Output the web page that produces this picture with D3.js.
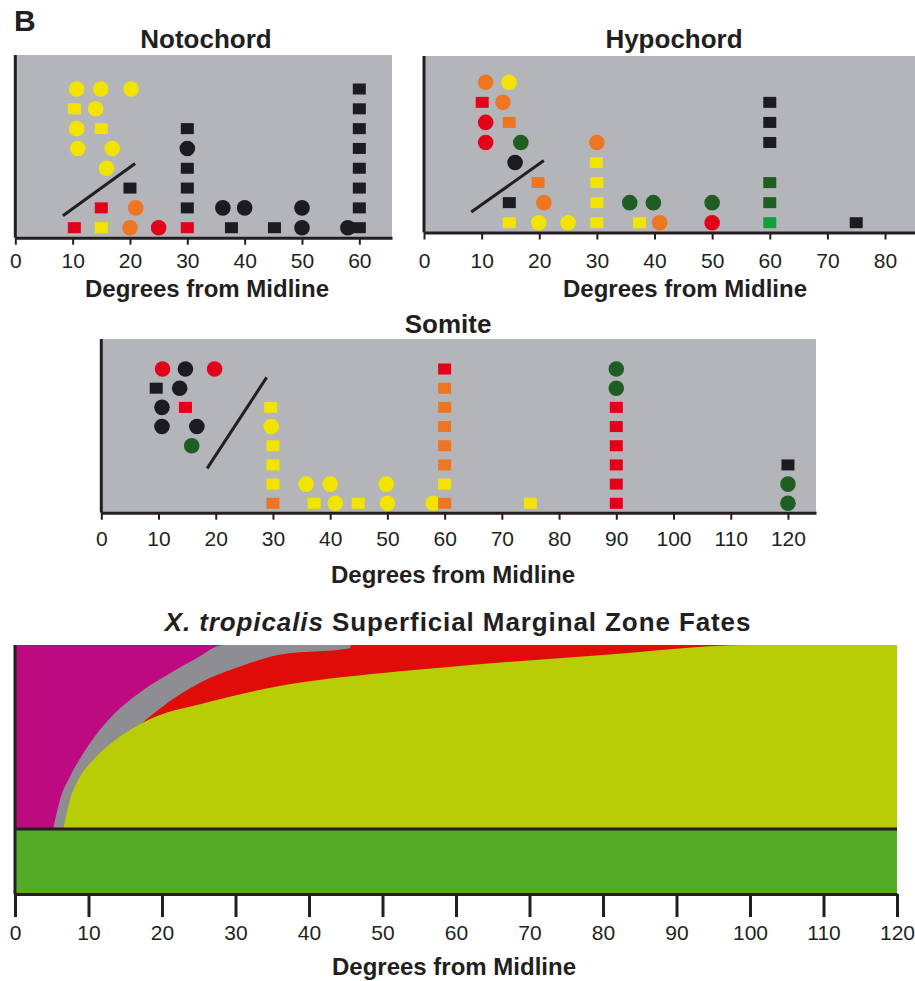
<!DOCTYPE html>
<html>
<head>
<meta charset="utf-8">
<script src="https://cdn.jsdelivr.net/npm/d3@7"></script>
<style>
  body { margin: 0; background: #fff; }
  svg { display: block; font-family: "Liberation Sans", Arial, Helvetica, sans-serif; }
</style>
</head>
<body>
<svg id="fig" width="915" height="981"></svg>
<script>
// fate categories: Y yellow, O orange, R red, K black, G dark green, LG light green
const fateColors = { Y: '#f3e400', O: '#ee7623', R: '#e2001a', K: '#1c1c20', G: '#1f5e22', LG: '#12a03a' };

// [degrees, row, shape (c = circle, s = square), fate]
const notochordPts = [
  [10.7, 7, 'c', 'Y'], [14.9, 7, 'c', 'Y'], [20.2, 7, 'c', 'Y'], [60, 7, 's', 'K'],
  [10.3, 6, 's', 'Y'], [14, 6, 'c', 'Y'], [60, 6, 's', 'K'],
  [10.7, 5, 'c', 'Y'], [15, 5, 's', 'Y'], [30, 5, 's', 'K'], [60, 5, 's', 'K'],
  [10.9, 4, 'c', 'Y'], [16.9, 4, 'c', 'Y'], [30, 4, 'c', 'K'], [60, 4, 's', 'K'],
  [15.9, 3, 'c', 'Y'], [30, 3, 's', 'K'], [60, 3, 's', 'K'],
  [20, 2, 's', 'K'], [30, 2, 's', 'K'], [60, 2, 's', 'K'],
  [15, 1, 's', 'R'], [21, 1, 'c', 'O'], [30, 1, 's', 'K'], [36.2, 1, 'c', 'K'], [40, 1, 'c', 'K'], [50, 1, 'c', 'K'], [60, 1, 's', 'K'],
  [10.3, 0, 's', 'R'], [15, 0, 's', 'Y'], [20, 0, 'c', 'O'], [25, 0, 'c', 'R'], [30, 0, 's', 'R'],
  [37.7, 0, 's', 'K'], [45.2, 0, 's', 'K'], [50, 0, 'c', 'K'], [58, 0, 'c', 'K'], [60, 0, 's', 'K']
];

const hypochordPts = [
  [10.7, 7, 'c', 'O'], [14.75, 7, 'c', 'Y'],
  [10.1, 6, 's', 'R'], [13.7, 6, 'c', 'O'], [60, 6, 's', 'K'],
  [10.7, 5, 'c', 'R'], [14.8, 5, 's', 'O'], [60, 5, 's', 'K'],
  [10.7, 4, 'c', 'R'], [16.8, 4, 'c', 'G'], [30, 4, 'c', 'O'], [60, 4, 's', 'K'],
  [15.8, 3, 'c', 'K'], [29.9, 3, 's', 'Y'],
  [19.8, 2, 's', 'O'], [30, 2, 's', 'Y'], [60, 2, 's', 'G'],
  [14.8, 1, 's', 'K'], [20.8, 1, 'c', 'O'], [30, 1, 's', 'Y'], [35.7, 1, 'c', 'G'], [39.8, 1, 'c', 'G'], [50, 1, 'c', 'G'], [60, 1, 's', 'G'],
  [14.8, 0, 's', 'Y'], [19.9, 0, 'c', 'Y'], [25, 0, 'c', 'Y'], [30, 0, 's', 'Y'], [37.4, 0, 's', 'Y'],
  [40.9, 0, 'c', 'O'], [50, 0, 'c', 'R'], [60, 0, 's', 'LG'], [75, 0, 's', 'K']
];

const somitePts = [
  [10.7, 7, 'c', 'R'], [14.7, 7, 'c', 'K'], [19.8, 7, 'c', 'R'], [60, 7, 's', 'R'], [90, 7, 'c', 'G'],
  [9.6, 6, 's', 'K'], [13.7, 6, 'c', 'K'], [60, 6, 's', 'O'], [90, 6, 'c', 'G'],
  [10.6, 5, 'c', 'K'], [14.7, 5, 's', 'R'], [29.6, 5, 's', 'Y'], [60, 5, 's', 'O'], [90, 5, 's', 'R'],
  [10.6, 4, 'c', 'K'], [16.7, 4, 'c', 'K'], [29.7, 4, 'c', 'Y'], [60, 4, 's', 'O'], [90, 4, 's', 'R'],
  [15.8, 3, 'c', 'G'], [30, 3, 's', 'Y'], [60, 3, 's', 'O'], [90, 3, 's', 'R'],
  [30, 2, 's', 'Y'], [60, 2, 's', 'O'], [90, 2, 's', 'R'], [120, 2, 's', 'K'],
  [30, 1, 's', 'Y'], [35.8, 1, 'c', 'Y'], [40, 1, 'c', 'Y'], [49.8, 1, 'c', 'Y'], [60, 1, 's', 'Y'], [90, 1, 's', 'R'], [120, 1, 'c', 'G'],
  [30, 0, 's', 'O'], [37.2, 0, 's', 'Y'], [40.9, 0, 'c', 'Y'], [44.9, 0, 's', 'Y'], [50, 0, 'c', 'Y'],
  [58, 0, 'c', 'Y'], [60, 0, 's', 'O'], [75, 0, 's', 'Y'], [90, 0, 's', 'R'], [120, 0, 'c', 'G']
];

// diagonal slash marks: [deg1, row1, deg2, row2]
const notochordSlash = [8.3, 0.6, 20.9, 3.24];
const hypochordSlash = [8.2, 0.53, 20.8, 3.1];
const somiteSlash = [18.5, 1.82, 28.9, 6.56];

const ticks60 = [0, 10, 20, 30, 40, 50, 60];
const ticks80 = [0, 10, 20, 30, 40, 50, 60, 70, 80];
const ticks120 = [0, 10, 20, 30, 40, 50, 60, 70, 80, 90, 100, 110, 120];

// bottom chart: upper edges of each fate region (fraction of the upper band)
const grayDeg = [5.2, 6.12, 7.48, 9.3, 11.56, 14.29, 17.46, 21.09, 24.7, 28.3, 46];
const grayTop = [0, 0.159, 0.285, 0.412, 0.539, 0.656, 0.756, 0.846, 0.928, 1, 1];
const redDeg = [17.23, 22, 26.5, 31.1, 35.8, 45.6, 45.7, 100];
const redTop = [0.575, 0.72, 0.82, 0.89, 0.946, 0.982, 1, 1];
const ygDeg = [6.58, 7.48, 8.6, 10.65, 13.37, 17.23, 26.5, 35.6, 49.7, 60.5, 80, 100, 120];
const ygTop = [0, 0.159, 0.267, 0.376, 0.475, 0.575, 0.692, 0.774, 0.846, 0.886, 0.946, 1, 1];

const ink = '#231f20';
const svg = d3.select('#fig');

svg.append('text').attr('x', 14).attr('y', 31)
  .attr('font-size', 30).attr('font-weight', 'bold').attr('fill', ink).text('B');

function drawPanel(p) {
  const x = d3.scaleLinear().domain([0, p.xMax]).range([p.left, p.right]);
  const y = d3.scaleLinear().domain([0, 7]).range([p.row0, p.row7]);
  const g = svg.append('g');

  g.append('rect')
    .attr('x', p.left).attr('y', p.top)
    .attr('width', p.right - p.left).attr('height', p.axisY - p.top)
    .attr('fill', '#b4b5b8');

  g.append('line')
    .attr('x1', x(p.slash[0])).attr('y1', y(p.slash[1]))
    .attr('x2', x(p.slash[2])).attr('y2', y(p.slash[3]))
    .attr('stroke', ink).attr('stroke-width', 3);

  const pts = p.pts.map(d => ({ deg: d[0], row: d[1], shape: d[2], fate: d[3] }));

  g.selectAll('circle.pt')
    .data(pts.filter(d => d.shape === 'c'))
    .join('circle').attr('class', 'pt')
    .attr('cx', d => x(d.deg)).attr('cy', d => y(d.row))
    .attr('r', 7.8)
    .attr('fill', d => fateColors[d.fate]);

  g.selectAll('rect.pt')
    .data(pts.filter(d => d.shape === 's'))
    .join('rect').attr('class', 'pt')
    .attr('x', d => x(d.deg) - 6.5).attr('y', d => y(d.row) - 5.5)
    .attr('width', 13).attr('height', 11)
    .attr('fill', d => fateColors[d.fate]);

  const ax = g.append('g')
    .attr('transform', `translate(0,${p.axisY})`)
    .call(d3.axisBottom(x).tickValues(p.ticks).tickSize(7).tickSizeOuter(0));
  ax.select('.domain').attr('stroke', ink).attr('stroke-width', 3);
  ax.selectAll('.tick line').attr('stroke', ink).attr('stroke-width', 2);
  ax.selectAll('.tick text')
    .attr('y', p.labelY - p.axisY).attr('dy', null)
    .attr('fill', ink).attr('font-size', 21)
    .attr('font-family', '"Liberation Sans", Arial, sans-serif');

  g.append('line')
    .attr('x1', p.left).attr('x2', p.left)
    .attr('y1', p.top).attr('y2', p.axisY)
    .attr('stroke', ink).attr('stroke-width', 3);

  g.append('text').attr('x', p.titleX).attr('y', p.titleY)
    .attr('text-anchor', 'middle').attr('font-size', 26).attr('font-weight', 'bold')
    .attr('fill', ink).text(p.title);

  g.append('text').attr('x', p.xTitleX).attr('y', p.xTitleY)
    .attr('text-anchor', 'middle').attr('font-size', 24).attr('font-weight', 'bold')
    .attr('fill', ink).text('Degrees from Midline');
}

drawPanel({
  title: 'Notochord', pts: notochordPts, slash: notochordSlash, ticks: ticks60,
  xMax: 65.7, left: 15.3, right: 392, top: 55, axisY: 237.7, row0: 227.7, row7: 89,
  labelY: 268, titleX: 206, titleY: 48, xTitleX: 207, xTitleY: 297
});

drawPanel({
  title: 'Hypochord', pts: hypochordPts, slash: hypochordSlash, ticks: ticks80,
  xMax: 85.2, left: 424, right: 915, top: 56, axisY: 232.5, row0: 222.7, row7: 82.3,
  labelY: 268, titleX: 674, titleY: 48, xTitleX: 685, xTitleY: 297
});

drawPanel({
  title: 'Somite', pts: somitePts, slash: somiteSlash, ticks: ticks120,
  xMax: 124.9, left: 101.3, right: 816, top: 339, axisY: 512.7, row0: 503.3, row7: 369,
  labelY: 546.5, titleX: 448, titleY: 333, xTitleX: 453, xTitleY: 583
});

// ---- X. tropicalis superficial marginal zone fates ----
const bx = d3.scaleLinear().domain([0, 120]).range([15, 897]);
const by = d3.scaleLinear().domain([0, 1]).range([829, 645]);
const bottomY = 894;
const bg = svg.append('g');

bg.append('rect')
  .attr('x', bx(0)).attr('y', by(1))
  .attr('width', bx(120) - bx(0)).attr('height', by(0) - by(1))
  .attr('fill', '#bd0a80');

function band(degs, tops, color, curve) {
  const data = degs.map((d, i) => [d, tops[i]]);
  const area = d3.area()
    .x(d => bx(d[0])).y0(by(0)).y1(d => by(d[1]))
    .curve(curve);
  bg.append('path').datum(data).attr('d', area).attr('fill', color);
}

band(grayDeg, grayTop, '#8e8d92', d3.curveMonotoneX);
band(redDeg, redTop, '#e00c07', d3.curveMonotoneX);
band(ygDeg, ygTop, '#b8cd05', d3.curveMonotoneX);

bg.append('rect')
  .attr('x', bx(0)).attr('y', by(0))
  .attr('width', bx(120) - bx(0)).attr('height', bottomY - by(0))
  .attr('fill', '#53ab27');

bg.append('line')
  .attr('x1', bx(0)).attr('x2', bx(120)).attr('y1', by(0)).attr('y2', by(0))
  .attr('stroke', ink).attr('stroke-width', 3);

const bax = bg.append('g')
  .attr('transform', `translate(0,${bottomY})`)
  .call(d3.axisBottom(bx).tickValues(ticks120).tickSize(23).tickSizeOuter(0));
bax.select('.domain').attr('stroke', ink).attr('stroke-width', 3);
bax.selectAll('.tick line').attr('stroke', ink).attr('stroke-width', 3);
bax.selectAll('.tick text')
  .attr('y', 940 - bottomY).attr('dy', null)
  .attr('fill', ink).attr('font-size', 21)
  .attr('font-family', '"Liberation Sans", Arial, sans-serif');

bg.append('line')
  .attr('x1', bx(0)).attr('x2', bx(0)).attr('y1', by(1)).attr('y2', bottomY)
  .attr('stroke', ink).attr('stroke-width', 3);

const btitle = bg.append('text').attr('x', 458).attr('y', 631)
  .attr('text-anchor', 'middle').attr('font-size', 26).attr('font-weight', 'bold')
  .attr('letter-spacing', 0.9).attr('fill', ink);
btitle.append('tspan').attr('font-style', 'italic').text('X. tropicalis');
btitle.append('tspan').text(' Superficial Marginal Zone Fates');

bg.append('text').attr('x', 454).attr('y', 975)
  .attr('text-anchor', 'middle').attr('font-size', 24).attr('font-weight', 'bold')
  .attr('fill', ink).text('Degrees from Midline');
</script>
</body>
</html>
